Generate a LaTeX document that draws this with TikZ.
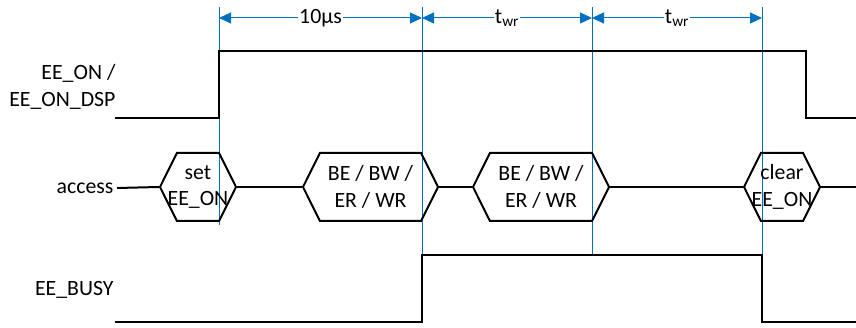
\documentclass[tikz,border=0pt]{standalone}
\usepackage{fontspec}
\setmainfont{Carlito}
\usepackage{xcolor}
\usetikzlibrary{arrows.meta,positioning,calc,shapes.symbols}
\definecolor{dimblue}{HTML}{0070C0}

\begin{document}
\begin{tikzpicture}[x=1pt,y=-1pt,>={Triangle[length=12pt,width=11pt]},
  every node/.style={font=\fontsize{21.8}{26.5}\selectfont},
  wave/.style={line width=2pt,line join=miter},
  guide/.style={line width=1pt,draw=dimblue},
  dimline/.style={<->,line width=1pt,draw=dimblue},
  dimlabel/.style={fill=white,inner sep=1pt},
  hexa/.style={draw,line width=2pt,shape=signal,signal to=east and west,signal pointer angle=127,minimum height=68pt,inner sep=0pt},
  siglabel/.style={anchor=east,align=right}]
\useasboundingbox (0,0) rectangle (856,328);
% time marks
\coordinate (g0) at (219,7);
\coordinate (g1) at (422,7);
\coordinate (g2) at (592,7);
\coordinate (g3) at (762,7);
\draw[guide] (g0) -- (219,225);
\draw[guide] (g1) -- (422,255);
\draw[guide] (g2) -- (592,255);
\draw[guide] (g3) -- (762,255);
\draw[dimline] ($(g0)+(0,11)$) -- node[dimlabel] {10µs} ($(g1)+(0,11)$);
\draw[dimline] ($(g1)+(0,11)$) -- node[dimlabel] {t\textsubscript{wr}} ($(g2)+(0,11)$);
\draw[dimline] ($(g2)+(0,11)$) -- node[dimlabel] {t\textsubscript{wr}} ($(g3)+(0,11)$);
% EE_ON
\node[siglabel] (eeon) at (119,87) {EE\_ON /\\EE\_ON\_DSP};
\draw[wave] (115,118) -| (219,51) -| (806,118) -- (856,118);
% access
\node[siglabel] (access) at (117,188) {access};
\node[hexa,minimum width=76pt] (seton) at (198,187) {};
\node[align=center] at (seton) {set\\EE\_ON};
\node[hexa,minimum width=135pt] (wr1) at (370.5,187) {};
\node[align=center] at (wr1) {BE / BW /\\ER / WR};
\node[hexa,minimum width=136pt] (wr2) at (541,187) {};
\node[align=center] at (wr2) {BE / BW /\\ER / WR};
\node[hexa,minimum width=76pt] (clron) at (782,187) {};
\node[align=center] at (clron) {clear\\EE\_ON};
\coordinate (accend) at (856,187);
\draw[wave] (access.east) -- (seton.west);
\draw[wave] (seton.east) -- (wr1.west);
\draw[wave] (wr1.east) -- (wr2.west);
\draw[wave] (wr2.east) -- (clron.west);
\draw[wave] (clron.east) -- (accend);
% EE_BUSY
\node[siglabel] (busy) at (117,290) {EE\_BUSY};
\draw[wave] (115,322) -- (422,322) |- (762,255) |- (856,322);
\end{tikzpicture}
\end{document}
